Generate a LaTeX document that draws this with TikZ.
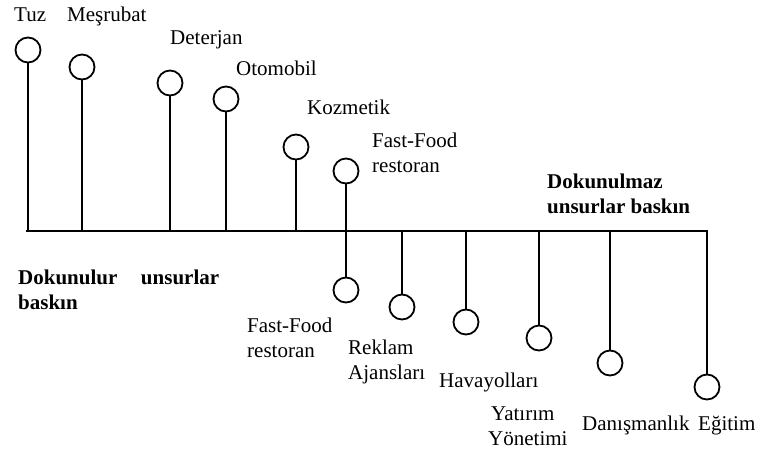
\documentclass[tikz,border=0pt]{standalone}
\usepackage{fontspec}
\setmainfont{Liberation Serif}
\begin{document}
\begin{tikzpicture}[x=1pt,y=-1pt,
  pin/.style={circle,draw,line width=1.8pt,minimum size=25pt,inner sep=0pt},
  stem/.style={line width=1.8pt},
  lbl/.style={anchor=base west,inner sep=0pt,align=left,
              font=\fontsize{21}{25}\selectfont},
  blbl/.style={lbl,font=\fontsize{21}{25}\selectfont\bfseries}]
\useasboundingbox (0,0) rectangle (763,459);

% main axis
\coordinate (axL) at (26,231);
\coordinate (axR) at (708,231);
\draw[stem] (axL) -- (axR);

% products above the axis (tangible side)
\node[pin] (tuz)  at (28,50)   {};
\node[pin] (mes)  at (82,67)   {};
\node[pin] (det)  at (170,83)  {};
\node[pin] (oto)  at (226,99)  {};
\node[pin] (koz)  at (296,147) {};
\node[pin] (ffu)  at (346,171) {};

% services below the axis (intangible side)
\node[pin] (ffd)  at (346,290) {};
\node[pin] (rek)  at (402,307) {};
\node[pin] (hav)  at (466,322) {};
\node[pin] (yat)  at (539,338) {};
\node[pin] (dan)  at (610,363) {};
\node[pin] (egi)  at (707,387) {};

% stems
\foreach \n in {tuz,mes,det,oto,koz}
  \draw[stem] (\n.south) -- (\n.south |- axL);
\draw[stem] (ffu.south) -- (ffd.north);
\foreach \n in {rek,hav,yat,dan,egi}
  \draw[stem] (\n.north |- axL) -- (\n.north);

% labels (multi-line labels without a text width sit on their last line;
% the justified one with a text width sits on its first line)
\node[lbl] (tTuz) at (14,21)  {Tuz};
\node[lbl] (tMes) at (67,21)  {Meşrubat};
\node[lbl] (tDet) at (170,44) {Deterjan};
\node[lbl] (tOto) at (236,75) {Otomobil};
\node[lbl] (tKoz) at (307,114) {Kozmetik};
\node[lbl] (tFfu) at (372,172) {Fast-Food\\restoran};

\node[blbl] (tIntang) at (547,213) {Dokunulmaz\\unsurlar baskın};
\node[blbl,text width=201pt] (tTang) at (18,284) {Dokunulur\hfill unsurlar\\baskın};

\node[lbl] (tFfd) at (247,357) {Fast-Food\\restoran};
\node[lbl] (tRek) at (348,379) {Reklam\\Ajansları};
\node[lbl] (tHav) at (439,387) {Havayolları};
\node[lbl] (tYat) at (488,445) {\hspace*{3pt}Yatırım\\Yönetimi};
\node[lbl] (tDan) at (582,430) {Danışmanlık};
\node[lbl] (tEgi) at (698,430) {Eğitim};
\end{tikzpicture}
\end{document}
